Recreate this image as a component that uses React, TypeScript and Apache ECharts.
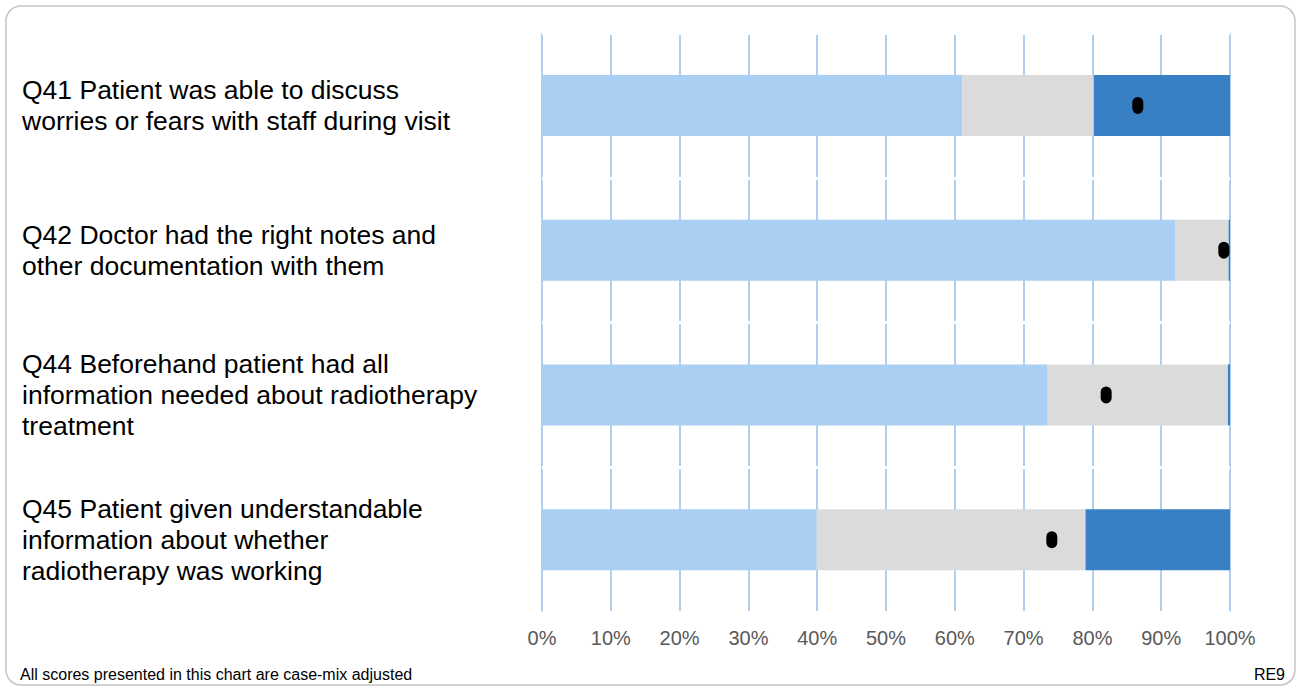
import React, { useEffect, useRef } from "react";
import * as echarts from "echarts";

const categories = [
  "Q41 Patient was able to discuss\nworries or fears with staff during visit",
  "Q42 Doctor had the right notes and\nother documentation with them",
  "Q44 Beforehand patient had all\ninformation needed about radiotherapy\ntreatment",
  "Q45 Patient given understandable\ninformation about whether\nradiotherapy was working",
];
const lowerValues = [61.1, 92.0, 73.4, 39.9];
const middleValues = [19.1, 7.8, 26.3, 39.1];
const upperValues = [19.8, 0.2, 0.3, 21.0];
const scoreValues = [86.6, 99.1, 82.0, 74.1];
const footnote = "All scores presented in this chart are case-mix adjusted";
const chartCode = "RE9";

const FONT = "'Liberation Sans', Arial, sans-serif";
const CAPSULE =
  "path://M5.5,0 A5.5,5.5 0 0 1 11,5.5 V11.5 A5.5,5.5 0 0 1 0,11.5 V5.5 A5.5,5.5 0 0 1 5.5,0 Z";

export default function App() {
  const ref = useRef<HTMLDivElement>(null);
  useEffect(() => {
    document.body.style.margin = "0";
    const chart = echarts.init(ref.current!, null, { renderer: "svg" });
    chart.setOption({
      animation: false,
      backgroundColor: "#ffffff",
      grid: { left: 542, right: 66, top: 33, bottom: 74, containLabel: false },
      xAxis: {
        type: "value",
        min: 0,
        max: 100,
        interval: 10,
        z: 0,
        axisLine: { show: false },
        axisTick: { show: false },
        splitLine: { show: true, lineStyle: { color: "#AECFEE", width: 2 } },
        axisLabel: {
          formatter: "{value}%",
          color: "#595959",
          fontSize: 20,
          fontFamily: FONT,
          margin: 16,
        },
      },
      yAxis: {
        type: "category",
        data: categories,
        inverse: true,
        z: 1,
        axisLine: { show: false },
        axisTick: { show: false },
        splitLine: { show: true, lineStyle: { color: "#ffffff", width: 3 } },
        axisLabel: {
          align: "left",
          margin: 520,
          color: "#000000",
          fontSize: 26.5,
          lineHeight: 31,
          fontFamily: FONT,
        },
      },
      series: [
        {
          type: "bar",
          stack: "total",
          data: lowerValues,
          barWidth: 61,
          z: 2,
          itemStyle: { color: "#A9CFF3" },
        },
        {
          type: "bar",
          stack: "total",
          data: middleValues,
          barWidth: 61,
          z: 2,
          itemStyle: { color: "#DCDBDB" },
        },
        {
          type: "bar",
          stack: "total",
          data: upperValues,
          barWidth: 61,
          z: 2,
          itemStyle: { color: "#3780C3" },
        },
        {
          type: "scatter",
          data: scoreValues.map((v, i) => [v, i]),
          symbol: CAPSULE,
          symbolSize: [11, 17],
          symbolKeepAspect: false,
          z: 5,
          itemStyle: { color: "#000000", opacity: 1 },
        },
      ],
      graphic: [
        {
          type: "rect",
          shape: { x: 6, y: 6, width: 1289, height: 679, r: 15 },
          style: { fill: "none", stroke: "#C4C4C4", lineWidth: 1.5 },
          z: 100,
        },
        {
          type: "text",
          x: 20,
          y: 674,
          style: {
            text: footnote,
            font: `16px ${FONT}`,
            fill: "#000000",
            verticalAlign: "middle",
          },
        },
        {
          type: "text",
          x: 1285,
          y: 674,
          style: {
            text: chartCode,
            font: `16px ${FONT}`,
            fill: "#000000",
            align: "right",
            verticalAlign: "middle",
          },
        },
      ],
    });
    return () => chart.dispose();
  }, []);
  return <div ref={ref} style={{ width: 1296, height: 686 }} />;
}
